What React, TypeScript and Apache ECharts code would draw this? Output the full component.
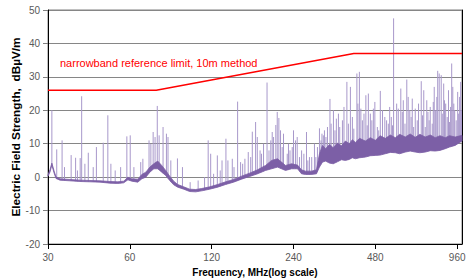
import React, { useEffect, useRef } from 'react';
import * as echarts from 'echarts';

// ---- axes ----
const fMin = 30;
const fMax = 1000;
const xTickMHz = [30, 60, 120, 240, 480, 960];
const yMin = -20;
const yMax = 50;
const yStep = 10;

// ---- limit line ----
const limitMHz = [30, 75, 400, 1000];
const limitDb = [26, 26, 37, 37];
const limitText = 'narrowband reference limit, 10m method';

// ---- noise floor band: [MHz, low dB, high dB] ----
const floorBand: [number, number, number][] = [
  [30, 0.3, 0.7], [30.5, 1.5, 2.2], [31.0, 3.6, 4.2], [31.6, 1.2, 1.8], [32.1, -0.4, 0.1],
  [33.2, -0.9, -0.5], [36.1, -1.1, -0.7], [39.3, -1.3, -0.9], [42.8, -1.4, -1.0], [46.6, -1.5, -1.1],
  [50.7, -1.8, -1.3], [54.2, -1.9, -1.4], [57.0, -1.7, -1.2], [59.0, -0.8, 0], [61.0, -1.2, -0.5],
  [64.2, -1.5, -0.6], [66.4, -0.5, 0.8], [68.7, 0, 1.5], [71.1, 1.5, 3.0], [73.5, 2.5, 4.0],
  [76.0, 2.5, 4.8], [78.6, 1.5, 3.5], [81.3, 0.5, 2], [84.1, -1, 0.3], [87.0, -2.3, -1.2],
  [90.0, -3, -2.2], [94.7, -3.6, -2.9], [99.6, -4.3, -3.6], [104.8, -4.4, -3.7], [110.3, -4.1, -3.4],
  [118.0, -3.6, -2.9], [126.2, -3, -2.2], [135.1, -2.2, -1.4], [144.5, -1.5, -0.7], [154.6, -0.6, 0.3],
  [165.5, 0.2, 1.2], [177.0, 1, 2.2], [189.4, 2, 3.5], [199.3, 2.5, 5], [209.6, 3, 5.5],
  [216.8, 2.5, 4.5], [224.3, 2, 3.5], [236.0, 2.5, 4], [248.3, 2.5, 3.6], [256.8, 1, 2.2],
  [265.6, 0.8, 1.8], [279.4, 0.8, 1.8], [291.5, 1, 2.2], [299.0, 3, 7], [306.7, 4.5, 9.5],
  [315, 4.8, 8.5], [325.4, 4.2, 9.8], [336, 4.0, 8.8], [348.1, 4.6, 10.2], [360, 5.2, 9.4],
  [372.5, 5.0, 10.8], [385, 5.3, 10], [395, 5.8, 11.2], [405.3, 5.5, 10.4], [420, 5.8, 11.6],
  [441.1, 6.0, 10.8], [460, 6.4, 11.8], [480, 6.5, 11], [500, 6.6, 12.4], [522.3, 7.0, 11.6],
  [545, 7.4, 12.6], [568.4, 7.3, 11.8], [590, 7.0, 12.8], [618.5, 7.5, 12], [645, 7.8, 12.9],
  [673.1, 7.5, 11.9], [700, 7.3, 12.8], [732.5, 7.5, 12], [765, 7.9, 12.6], [797.1, 7.8, 11.8],
  [830, 8.0, 12.4], [867.4, 8.5, 11.8], [900, 9.0, 12.4], [944.0, 9.5, 12], [1000, 10.8, 12.5],
];

// ---- narrowband spikes: [MHz, peak dB] ----
const spikesLow: [number, number][] = [
  [31.0, 20], [32.3, 8.3], [33.8, 11], [34.5, 3], [36.5, 6.6], [37.9, 5.8], [38.5, 2], [39.4, 5.7],
  [39.9, 24.2], [41, 4], [42.2, 7.3], [44, 3], [45.2, 9], [47.9, 10.3], [49.8, 18.5], [51.1, 4],
  [53, 2], [55.5, 3], [58.5, 12.2], [60.2, 12.5], [62.1, 3], [65.8, 4.5], [67.0, 5.5], [70.6, 11],
  [71.7, 10], [73.1, 13.5], [74.3, 12], [75.7, 21.3], [76.9, 12.5], [79.5, 15], [81.8, 13],
  [82.9, 12], [84.9, 5], [89.8, 5.6], [93.7, 3],
];
const spikesMid: [number, number][] = [
  [100, -1.5], [107, -1], [113, 0], [116.5, 11], [119.0, 7], [122, 1], [125.9, 6.5], [129, 2],
  [131, 5], [135.4, 11.5], [137.7, 5], [142.9, 5.5], [145, 3], [149.5, 22.6], [153.3, 4.5],
  [156, 4], [159.0, 5.5], [163.6, 7.5], [167, 6], [169.3, 13.6], [174.1, 16.5], [176.6, 12],
  [180.8, 8], [183, 7], [186.2, 10], [191.8, 28.3], [195, 8], [198, 11], [200.4, 13.5],
  [202.7, 12], [206.6, 15.6], [209.1, 19.5], [212.0, 17.7], [215.0, 14], [218, 9], [220.5, 13],
  [227.6, 7], [230, 10], [233, 8], [237.4, 9], [240.0, 14], [244, 11], [247.6, 12], [252.6, 6],
  [257, 8], [262, 7], [267.9, 13.5], [271, 5], [274.7, 6], [280, 6], [286.6, 10], [290, 6], [294.0, 9],
];
const spikesHigh: [number, number][] = [
  [299.0, 14.6], [303, 11], [305.4, 13], [309, 12.5], [311.9, 14], [315.9, 12], [320, 15],
  [326.8, 23.4], [330, 16], [336.6, 20], [341, 14], [345, 17.5], [351.1, 19], [355, 15],
  [363.2, 17], [368, 21], [377.2, 28.5], [382, 16], [388.6, 27], [395.2, 18], [400, 14.5],
  [410.5, 31], [414, 22], [419.3, 31.5], [424.6, 20.5], [430.1, 17], [436, 19], [443.0, 24.5],
  [448, 15.5], [452.4, 25], [460.2, 19], [466, 17], [472.0, 20.5], [478, 22.5], [488.2, 15],
  [494, 14], [500.6, 25.8], [510, 20], [520.1, 18], [528, 17], [535.7, 16], [542, 21],
  [549.5, 18], [555, 15.5], [560.3, 47.5], [575, 22], [583.0, 20.5], [595.5, 26.5], [603, 19.5],
  [608.2, 23], [617, 16], [626.5, 29.2], [634, 24], [642.5, 20], [650, 18], [656.2, 23.5],
  [664, 15], [673.1, 20.5], [684.6, 17], [692, 22], [708.1, 28.7], [716, 18.5], [723.3, 26],
  [732.5, 15], [742, 23], [749.4, 19.5], [757, 17], [764.1, 21], [777.1, 16], [784, 22.5],
  [790.4, 27], [800, 20], [808, 24], [814.1, 31.8], [824.5, 31], [838.6, 30.5], [846, 19],
  [856.4, 28], [862, 23], [871.0, 22], [882.2, 18], [891.9, 26], [900, 16.5], [908, 21],
  [916.4, 34], [925, 27], [933, 22], [939.9, 20], [952.0, 17], [964.1, 25.5], [972, 19],
  [980, 24], [988.9, 28.5], [995, 20],
];

const toX = (f: number) => Math.log2(f / fMin);

const bandX = floorBand.map((b) => toX(b[0]));
const bandLow = floorBand.map((b) => b[1]);
const bandHigh = floorBand.map((b) => b[2]);
const floorAt = (x: number) => {
  for (let i = 0; i < bandX.length - 1; i++) {
    if (x >= bandX[i] && x <= bandX[i + 1]) {
      const t = (x - bandX[i]) / (bandX[i + 1] - bandX[i] || 1);
      return bandLow[i] + t * (bandLow[i + 1] - bandLow[i]);
    }
  }
  return bandLow[bandLow.length - 1];
};

const FONT = '"Liberation Sans", Arial, sans-serif';

export default function App() {
  const ref = useRef<HTMLDivElement>(null);
  useEffect(() => {
    if (!ref.current) return;
    const chart = echarts.init(ref.current, undefined, { renderer: 'svg' });
    const purple = '#7C5FA6';
    const spikeColor = '#A898CB';
    const allSpikes = [...spikesLow, ...spikesMid, ...spikesHigh];
    const option: any = {
      animation: false,
      backgroundColor: '#fff',
      grid: { left: 48, right: 9, top: 10, bottom: 36, show: true, borderColor: '#808080', borderWidth: 1 },
      xAxis: {
        type: 'value',
        min: 0,
        max: toX(fMax),
        interval: 1,
        axisLine: { show: true, onZero: false, lineStyle: { color: '#000', width: 1 } },
        axisTick: { show: true, length: 5, customValues: xTickMHz.map(toX), lineStyle: { color: '#000' } },
        axisLabel: {
          customValues: xTickMHz.map(toX),
          formatter: (v: number) => String(Math.round(fMin * Math.pow(2, v))),
          color: '#595959',
          fontSize: 10,
          fontFamily: FONT,
          margin: 8,
        },
        splitLine: { show: false },
      },
      yAxis: [
        {
          type: 'value',
          min: yMin,
          max: yMax,
          interval: yStep,
          axisLine: { show: true, lineStyle: { color: '#000', width: 1 } },
          axisTick: { show: true, length: 5, lineStyle: { color: '#808080' } },
          axisLabel: { color: '#595959', fontSize: 10, fontFamily: FONT, margin: 8 },
          splitLine: { show: true, lineStyle: { color: '#868686', width: 1 } },
        },
        {
          type: 'value',
          position: 'right',
          min: yMin,
          max: yMax,
          interval: yStep,
          axisLine: { show: true, lineStyle: { color: '#000', width: 1 } },
          axisTick: { show: false },
          axisLabel: { show: false },
          splitLine: { show: false },
        },
      ],
      series: [
        {
          type: 'custom',
          name: 'spikes',
          z: 2,
          silent: true,
          data: allSpikes.map(([f, p]) => [toX(f), floorAt(toX(f)), p]),
          renderItem: (params: any, api: any) => {
            const x = api.value(0);
            const p1 = api.coord([x, api.value(1)]);
            const p2 = api.coord([x, api.value(2)]);
            return {
              type: 'line',
              shape: { x1: p1[0], y1: p1[1], x2: p2[0], y2: p2[1] },
              style: { stroke: spikeColor, lineWidth: 1 },
            };
          },
        },
        {
          type: 'custom',
          name: 'floor',
          z: 3,
          silent: true,
          data: floorBand.map((b) => [toX(b[0]), b[1], b[2]]),
          renderItem: (params: any, api: any) => {
            if (params.dataIndex !== 0) return null;
            const top = bandX.map((x, i) => api.coord([x, bandHigh[i]]));
            const bot = bandX.map((x, i) => api.coord([x, bandLow[i]])).reverse();
            return {
              type: 'polygon',
              shape: { points: top.concat(bot) },
              style: { fill: purple, stroke: purple, lineWidth: 0.8, lineJoin: 'round' },
            };
          },
        },
        {
          type: 'line',
          name: 'limit',
          z: 4,
          symbol: 'none',
          silent: true,
          data: limitMHz.map((f, i) => [toX(f), limitDb[i]]),
          lineStyle: { color: '#FF0000', width: 1.5 },
        },
      ],
      graphic: [
        {
          type: 'text',
          x: 60,
          y: 63,
          style: {
            text: limitText,
            fill: '#FF0000',
            font: `11px ${FONT}`,
            align: 'left',
            verticalAlign: 'middle',
            textAlign: 'left',
            textVerticalAlign: 'middle',
          },
        },
        {
          type: 'text',
          x: 255,
          y: 272,
          style: {
            text: 'Frequency, MHz(log scale)',
            fill: '#000',
            font: `bold 10px ${FONT}`,
            align: 'center',
            verticalAlign: 'middle',
            textAlign: 'center',
            textVerticalAlign: 'middle',
          },
        },
        {
          type: 'text',
          x: 16,
          y: 127,
          rotation: Math.PI / 2,
          style: {
            text: 'Electric Field Strength,  dBµV/m',
            fill: '#000',
            font: `bold 11.8px ${FONT}`,
            align: 'center',
            verticalAlign: 'middle',
            textAlign: 'center',
            textVerticalAlign: 'middle',
          },
        },
      ],
    };
    chart.setOption(option);
    return () => chart.dispose();
  }, []);
  return (
    <div
      ref={ref}
      style={{ position: 'fixed', left: 0, top: 0, width: 471, height: 280, background: '#fff' }}
    />
  );
}
